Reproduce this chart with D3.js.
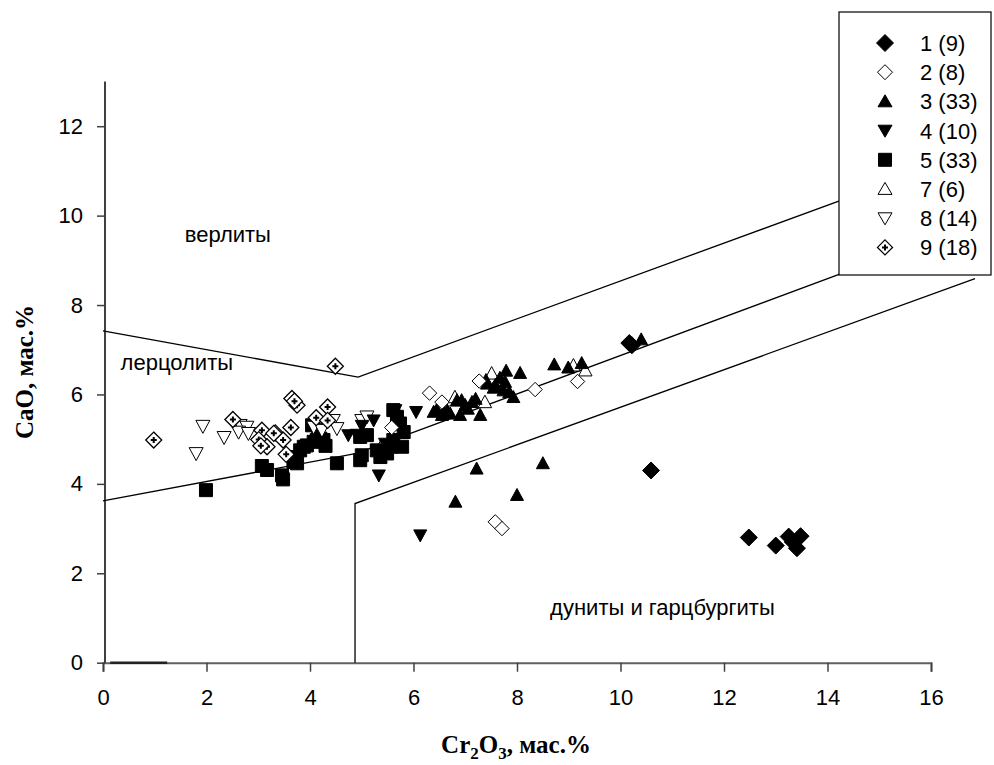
<!DOCTYPE html>
<html><head><meta charset="utf-8">
<script src="https://cdn.jsdelivr.net/npm/d3@7"></script>
<style>body{margin:0;background:#fff}svg{display:block}</style>
</head><body>
<svg id="c" width="994" height="765"></svg>
<script>
// ---- data ----
const xTicks = [0,2,4,6,8,10,12,14,16];
const yTicks = [0,2,4,6,8,10,12];
const seriesNames = ["1 (9)","2 (8)","3 (33)","4 (10)","5 (33)","7 (6)","8 (14)","9 (18)"];
const s1 = [[10.17,7.15],[10.22,7.10],[10.59,4.30],[12.48,2.80],[13.0,2.62],[13.25,2.82],[13.48,2.83],[13.41,2.56],[13.33,2.70]];
const s2 = [[7.58,3.15],[7.71,3.0],[8.35,6.11],[9.17,6.29],[7.27,6.30],[6.31,6.03],[5.58,5.26],[6.55,5.83]];
const s3 = [[10.40,7.23],[8.72,6.67],[9.25,6.70],[8.99,6.60],[7.79,6.53],[8.06,6.48],[7.67,6.37],[7.77,6.28],[7.42,6.24],[7.58,6.21],[7.74,6.09],[7.93,5.94],[6.93,5.87],[7.13,5.83],[7.0,5.76],[6.71,5.57],[6.9,5.54],[7.29,5.54],[6.58,5.61],[6.39,5.61],[6.55,5.54],[6.84,5.87],[7.40,6.32],[7.22,4.34],[8.50,4.46],[6.81,3.60],[8.0,3.75],[6.45,5.66],[7.05,5.68],[7.55,6.15],[7.2,5.9],[6.65,5.64],[7.85,6.05]];
const s4 = [[5.33,4.19],[6.05,5.61],[5.23,5.42],[4.74,5.09],[5.65,5.65],[5.29,4.75],[6.13,2.85],[5.0,5.3],[5.45,4.9],[4.9,5.1]];
const s5 = [[1.99,3.86],[3.07,4.40],[3.17,4.31],[3.46,4.19],[3.48,4.10],[3.68,4.49],[3.70,4.60],[3.81,4.75],[3.94,4.86],[4.07,4.94],[4.20,5.01],[4.16,5.20],[4.52,4.46],[4.97,5.05],[5.0,4.64],[5.29,4.75],[4.04,5.31],[4.97,4.53],[5.1,5.09],[5.36,4.60],[5.49,4.68],[5.55,4.83],[5.61,4.98],[5.68,5.50],[5.74,5.35],[5.81,5.16],[5.78,4.83],[5.61,5.65],[3.88,4.83],[4.13,4.98],[4.26,4.98],[3.75,4.46],[4.3,4.85]];
const s7 = [[9.09,6.65],[9.32,6.54],[7.51,6.47],[6.80,5.94],[7.38,5.83],[5.38,4.85]];
const s8 = [[1.93,5.29],[1.80,4.68],[2.34,5.04],[2.65,5.31],[2.78,5.27],[2.62,5.16],[2.81,5.13],[4.07,5.27],[4.45,5.42],[4.52,5.24],[5.0,5.42],[5.1,5.5],[4.23,5.2],[6.80,5.61]];
const s9 = [[0.98,4.98],[2.51,5.44],[3.65,5.91],[3.75,5.76],[3.07,5.20],[3.01,4.99],[3.17,4.83],[3.33,5.14],[3.48,4.98],[3.63,5.26],[3.54,4.66],[4.49,6.63],[4.12,5.48],[4.34,5.72],[4.34,5.42],[3.30,5.13],[3.05,4.85],[3.70,5.85]];
// boundary lines between fields
const lineWehrlite = [[0,7.42],[4.93,6.39],[16,11.08]];
const lineLherz = [[0,3.62],[4.9,4.68],[16,9.45]];
const lineDunite = [[4.87,0],[4.87,3.56],[16.85,8.59]];
const baseSegment = [[0.14,0],[1.24,0]];
const fieldLabels = [{t:"верлиты",x:1.58,y:9.4},{t:"лерцолиты",x:0.34,y:6.54},{t:"дуниты и гарцбургиты",x:8.64,y:1.07}];

// ---- layout ----
const svg = d3.select("#c");
const X0=103, X1=931, Y0=662.7, Y1=81.5;
const x = d3.scaleLinear().domain([0,16]).range([X0,X1]);
const y = d3.scaleLinear().domain([0,13]).range([Y0,Y1]);
const FONT = "Liberation Sans, Arial, sans-serif";

// marker shapes
function diamond(r){return `M0,${-r}L${r},0L0,${r}L${-r},0Z`;}
function square(h){return `M${-h},${-h}H${h}V${h}H${-h}Z`;}
function triUp(w,h){return `M0,${-h*0.55}L${w/2},${h*0.45}L${-w/2},${h*0.45}Z`;}
function triDown(w,h){return `M0,${h*0.55}L${w/2},${-h*0.45}L${-w/2},${-h*0.45}Z`;}
const styles = [
  {d:diamond(8.5), fill:"#000", stroke:"#000", sw:1},
  {d:diamond(7.2), fill:"#fff", stroke:"#000", sw:1},
  {d:triUp(13,12), fill:"#000", stroke:"#000", sw:1},
  {d:triDown(13,12), fill:"#000", stroke:"#000", sw:1},
  {d:square(6.5), fill:"#000", stroke:"#000", sw:1},
  {d:triUp(13.5,12.5), fill:"#fff", stroke:"#000", sw:1},
  {d:triDown(14,13), fill:"#fff", stroke:"#000", sw:1},
  {d:diamond(8), fill:"#fff", stroke:"#000", sw:1.3, plus:true}
];
const allSeries = [s1,s2,s3,s4,s5,s7,s8,s9];

// axes
const gx = svg.append("g").attr("transform",`translate(0,${Y0})`)
  .call(d3.axisBottom(x).tickValues(xTicks).tickSize(9).tickPadding(18).tickFormat(d3.format("d")));
gx.select(".domain").attr("stroke","#606060").attr("stroke-width",2);
gx.selectAll(".tick line").attr("stroke","#404040").attr("stroke-width",1.5);
gx.selectAll("text").attr("font-family",FONT).attr("font-size",22).attr("fill","#000");

const gy = svg.append("g").attr("transform",`translate(${X0+2},0)`)
  .call(d3.axisLeft(y).tickValues(yTicks).tickSize(8).tickPadding(14).tickFormat(d3.format("d")));
gy.select(".domain").attr("stroke","#000").attr("stroke-width",1.5).attr("d",`M0,${Y0}V${Y1}`);
gy.selectAll(".tick line").attr("stroke","#404040").attr("stroke-width",1.5);
gy.selectAll("text").attr("font-family",FONT).attr("font-size",22).attr("fill","#000");

// boundary lines
const line = d3.line().x(d=>x(d[0])).y(d=>y(d[1]));
[lineWehrlite,lineLherz,lineDunite].forEach(l=>{
  svg.append("path").attr("d",line(l)).attr("fill","none").attr("stroke","#000").attr("stroke-width",1.3);
});
svg.append("path").attr("d",line(baseSegment)).attr("stroke","#222").attr("stroke-width",2.5);

// field labels
fieldLabels.forEach(f=>{
  svg.append("text").attr("x",x(f.x)).attr("y",y(f.y)).text(f.t)
    .attr("font-family",FONT).attr("font-size",22).attr("fill","#000");
});

// points
[5,4,6,7,3,2,1,0].forEach(i=>{
  const st = styles[i];
  const g = svg.append("g");
  allSeries[i].forEach(p=>{
    const gg = g.append("g").attr("transform",`translate(${x(p[0])},${y(p[1])})`);
    gg.append("path").attr("d",st.d).attr("fill",st.fill).attr("stroke",st.stroke).attr("stroke-width",st.sw);
    if(st.plus){
      gg.append("path").attr("d","M-3,0H3M0,-3V3").attr("stroke","#000").attr("stroke-width",2);
    }
  });
});

// legend
const LX=839, LY=12, LW=152, LH=263;
svg.append("rect").attr("x",LX).attr("y",LY).attr("width",LW).attr("height",LH)
  .attr("fill","#fff").attr("stroke","#000").attr("stroke-width",1.2);
const legStyles = [
  {d:diamond(8.5)},{d:diamond(7.5)},{d:triUp(14,12)},{d:triDown(14,12)},{d:square(6.5)},{d:triUp(14,12)},{d:triDown(14,12)},{d:diamond(7.5)}
];
seriesNames.forEach((nm,i)=>{
  const cy = 43 + i*29.2;
  const st = styles[i];
  const gg = svg.append("g").attr("transform",`translate(885,${cy})`);
  gg.append("path").attr("d",legStyles[i].d).attr("fill",st.fill).attr("stroke",st.stroke).attr("stroke-width",st.sw);
  if(st.plus) gg.append("path").attr("d","M-3,0H3M0,-3V3").attr("stroke","#000").attr("stroke-width",2);
  svg.append("text").attr("x",920).attr("y",cy+8).text(nm)
    .attr("font-family",FONT).attr("font-size",22).attr("fill","#000");
});

// axis titles
svg.append("text").attr("transform","translate(33,372) rotate(-90)").attr("text-anchor","middle")
  .attr("font-family","Liberation Serif, Times New Roman, serif").attr("font-weight","bold").attr("font-size",25).attr("fill","#000")
  .text("CaO, мас.%");
const xt = svg.append("text").attr("x",516).attr("y",753).attr("text-anchor","middle")
  .attr("font-family","Liberation Serif, Times New Roman, serif").attr("font-weight","bold").attr("font-size",25).attr("fill","#000");
xt.append("tspan").text("Cr");
xt.append("tspan").attr("font-size",17).attr("dy",6).text("2");
xt.append("tspan").attr("dy",-6).text("O");
xt.append("tspan").attr("font-size",17).attr("dy",6).text("3");
xt.append("tspan").attr("dy",-6).text(", мас.%");
</script>
</body></html>
